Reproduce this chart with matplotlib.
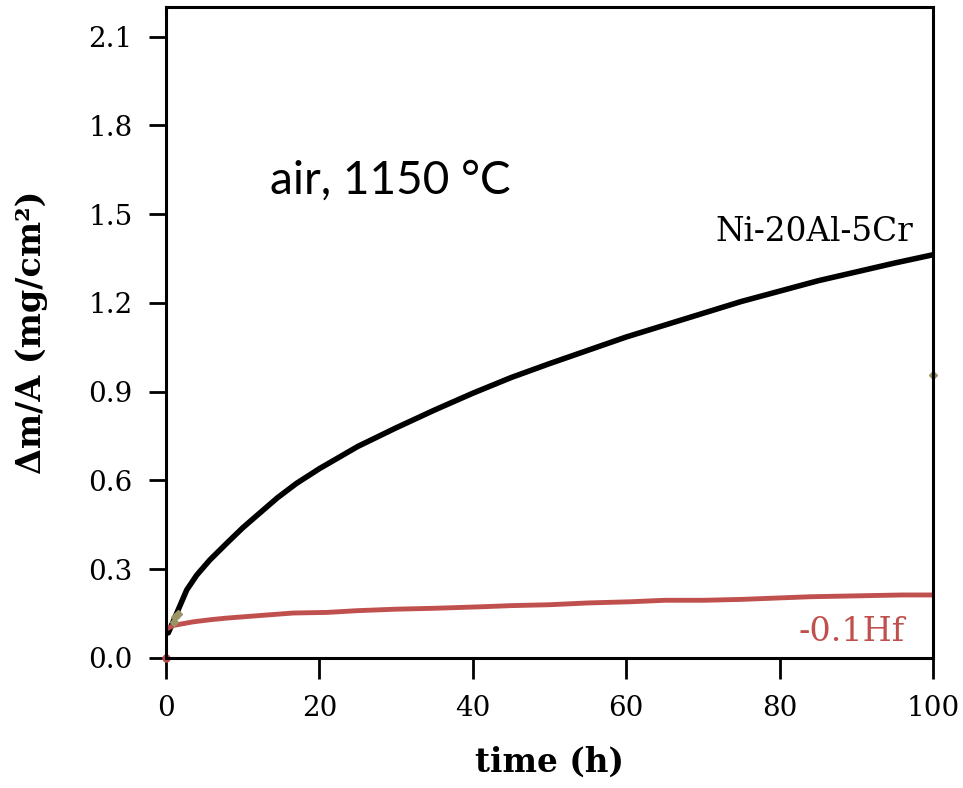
import matplotlib
matplotlib.use('Agg')
import matplotlib.pyplot as plt

# values
t_base = [0.3, 2.7, 4, 5.7, 8, 10, 12, 14.5, 17, 20, 25, 30, 35, 40, 45, 50, 55,
          60, 65, 70, 75, 80, 85, 90, 95, 100]
m_base = [0.085, 0.23, 0.28, 0.331, 0.39, 0.44, 0.485, 0.541, 0.59, 0.64, 0.715,
          0.778, 0.838, 0.895, 0.948, 0.995, 1.04, 1.085, 1.125, 1.165, 1.205, 1.24,
          1.275, 1.305, 1.335, 1.363]

t_hf = [0, 0.2, 1, 2, 3.5, 6, 8, 10, 13, 16.6, 21, 25, 30, 35, 41, 45, 50, 55,
        60.5, 65, 70, 75, 80, 84, 88, 92, 96, 100]
m_hf = [0.0, 0.10, 0.11, 0.115, 0.122, 0.13, 0.135, 0.139, 0.145, 0.152, 0.154,
        0.16, 0.165, 0.168, 0.173, 0.177, 0.18, 0.186, 0.19, 0.195, 0.195, 0.198,
        0.203, 0.207, 0.209, 0.211, 0.213, 0.213]

t_other = [1.0, 1.2, 1.5, 100]
m_other = [0.12, 0.14, 0.15, 0.955]

x_ticks = [0, 20, 40, 60, 80, 100]
y_ticks = [0.0, 0.3, 0.6, 0.9, 1.2, 1.5, 1.8, 2.1]

serif = 'DejaVu Serif'

fig = plt.figure(figsize=(9.63, 7.88), dpi=100)
ax = fig.add_axes([0.1724, 0.165, 0.7966, 0.826])

ax.plot(t_base, m_base, color='black', lw=4, solid_capstyle='round')
ax.plot(t_hf[1:], m_hf[1:], color='#c0504d', lw=3.5)
ax.plot(t_hf[0], m_hf[0], 'o', color='#c0504d', ms=5, clip_on=False)
ax.plot(t_other, m_other, 'D', color='#9b9464', ms=4, clip_on=False)

ax.set_xlim(0, 100)
ax.set_ylim(0, 2.2)
ax.set_xticks(x_ticks)
ax.set_yticks(y_ticks)
ax.set_xticklabels([str(v) for v in x_ticks], fontfamily=serif, fontsize=20)
ax.set_yticklabels([f'{v:.1f}' for v in y_ticks], fontfamily=serif, fontsize=20)
ax.tick_params(axis='x', direction='out', length=15, width=2, pad=12)
ax.tick_params(axis='y', direction='out', length=12, width=2, pad=12)
for s in ax.spines.values():
    s.set_linewidth(2.2)

ax.set_xlabel('time (h)', fontfamily=serif, fontweight='bold', fontsize=23.5, va='center')
ax.xaxis.set_label_coords(0.5, -0.160)
ax.set_ylabel('Δm/A (mg/cm²)', fontfamily=serif, fontweight='bold', fontsize=24, va='center')
ax.yaxis.set_label_coords(-0.175, 0.5)

ax.text(0.136, 0.734, 'air, 1150 °C', transform=ax.transAxes, fontfamily='Lato',
        fontsize=33, va='center', ha='left')
ax.text(0.974, 0.654, 'Ni-20Al-5Cr', transform=ax.transAxes, fontfamily=serif,
        fontsize=23.5, va='center', ha='right')
ax.text(0.963, 0.04, '-0.1Hf', transform=ax.transAxes, fontfamily=serif,
        fontsize=24, va='center', ha='right', color='#c0504d')

fig.savefig('out.png', dpi=100)
